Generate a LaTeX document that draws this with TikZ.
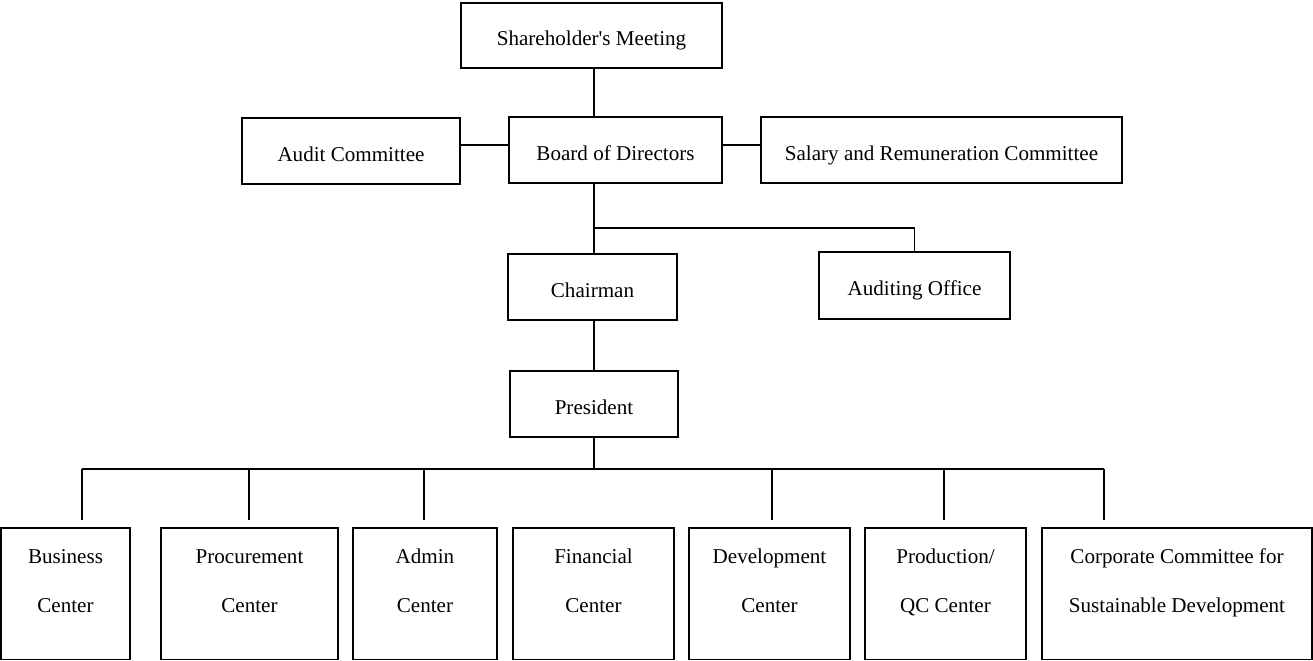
\documentclass[tikz,border=0pt]{standalone}
\usepackage{fontspec}
\setmainfont{Liberation Serif}[Ligatures=TeXOff]
\usepackage{tikz}
\newcommand{\ctrline}{\vrule height 9pt depth 15.3pt width 0pt}

\begin{document}
\begin{tikzpicture}[x=0.02cm, y=-0.02cm,
  font=\fontsize{12}{27.9}\selectfont,
  box/.style={draw, line width=1.1pt, inner sep=0pt, align=center, minimum height=1.32cm},
  one/.style={box, text height=11.5pt, text depth=0pt},
  unit/.style={box, minimum height=2.63cm},
  link/.style={line width=0.85pt}]
  \useasboundingbox (0,0) rectangle (1313,661);
  % governance
  \node[one, minimum width=5.22cm, minimum height=1.3cm] (sm) at (591.5,35.5) {Shareholder's Meeting};
  \node[one, minimum width=4.26cm] (bod) at (615.5,150) {Board of Directors};
  \node[one, minimum width=4.36cm] (ac) at (351,151) {Audit Committee};
  \node[one, minimum width=7.22cm] (src) at (941.5,150) {Salary and Remuneration Committee};
  \node[one, minimum width=3.38cm] (ch) at (592.5,287) {Chairman};
  \node[one, minimum width=3.82cm, minimum height=1.34cm] (ao) at (914.5,285.5) {Auditing Office};
  \node[one, minimum width=3.36cm] (pr) at (594,404) {President};
  % centers
  \node[unit, minimum width=2.58cm] (bc) at (65.5,593.75) {\ctrline Business\\\ctrline Center};
  \node[unit, minimum width=3.54cm] (pc) at (249.5,593.75) {\ctrline Procurement\\\ctrline Center};
  \node[unit, minimum width=2.88cm] (adc) at (425,593.75) {\ctrline Admin\\\ctrline Center};
  \node[unit, minimum width=3.22cm] (fc) at (593.5,593.75) {\ctrline Financial\\\ctrline Center};
  \node[unit, minimum width=3.22cm] (dc) at (769.5,593.75) {\ctrline Development\\\ctrline Center};
  \node[unit, minimum width=3.22cm] (pqc) at (945.5,593.75) {\ctrline Production/\\\ctrline QC Center};
  \node[unit, minimum width=5.4cm] (ccsd) at (1177,593.75) {\ctrline Corporate Committee for\\\ctrline Sustainable Development};
  % lines
  \coordinate (split) at (594,228);
  \coordinate (busL) at (82,469);
  \coordinate (busR) at (1104,469);
  \draw[link] (sm.south -| pr) -- (bod.north -| pr);
  \draw[link] ([yshift=0.12cm]ac.east) -- ([yshift=0.12cm]ac.east -| bod.west);
  \draw[link] ([yshift=0.1cm]bod.east) -- ([yshift=0.1cm]bod.east -| src.west);
  \draw[link] (bod.south -| pr) -- (ch.north -| pr);
  \draw[link] (split) -| (ao.north);
  \draw[link] (ch.south -| pr) -- (pr.north);
  \draw[link] (pr.south) -- (pr.south |- busL);
  \draw[link] (busL) -- (busR);
  \foreach \u/\dx in {bc/16.5, pc/-0.5, adc/-1, dc/2.5, pqc/-1.5, ccsd/-73}
    \draw[link] ([xshift=\dx*0.02cm]\u.north |- busL) -- ([xshift=\dx*0.02cm, yshift=0.14cm]\u.north);
\end{tikzpicture}
\end{document}
